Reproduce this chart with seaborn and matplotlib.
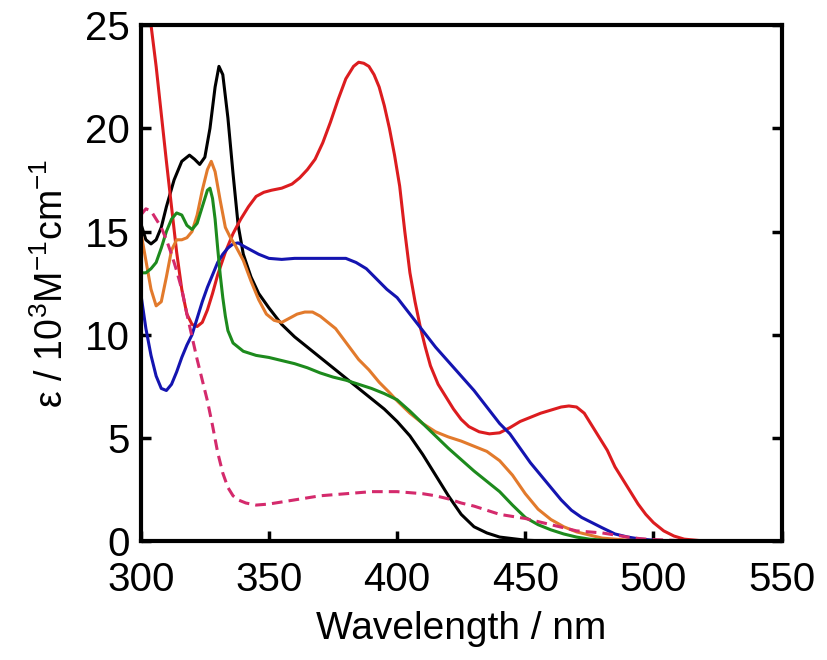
import matplotlib
matplotlib.use("Agg")
import matplotlib.pyplot as plt
import seaborn as sns


# ==============================
# DATA
# ==============================

black_nm = [300, 302, 304, 306, 308, 310, 313, 316, 319, 321, 323, 325, 327,
            329, 330.5, 332, 334, 336, 338, 340, 343, 346, 350, 355, 360, 365,
            370, 375, 380, 385, 390, 395, 400, 405, 410, 415, 420, 425, 430,
            435, 440, 450, 460, 550]
black_eps = [15.4, 14.6, 14.4, 14.6, 15.2, 16.2, 17.5, 18.4, 18.7, 18.5, 18.25,
             18.6, 20.0, 22.0, 23.0, 22.6, 20.5, 17.8, 15.3, 13.9, 12.8, 12.0,
             11.3, 10.5, 9.9, 9.4, 8.9, 8.4, 7.9, 7.4, 6.9, 6.4, 5.8, 5.1, 4.2,
             3.2, 2.2, 1.3, 0.7, 0.4, 0.2, 0.05, 0.0, 0.0]

red_nm = [300, 302, 304, 306, 308, 310, 312, 314, 316, 318, 320, 322, 324,
          326, 328, 330, 333, 336, 339, 342, 345, 348, 351, 355, 359, 362, 365,
          368, 371, 374, 377, 380, 383, 385, 387, 389, 391, 393, 395, 397, 399,
          401, 403, 405, 407, 409, 411, 413, 416, 419, 422, 425, 428, 432, 436,
          440, 444, 448, 452, 456, 460, 464, 467, 470, 473, 476, 479, 482, 485,
          488, 491, 494, 497, 500, 504, 508, 512, 518, 525, 550]
red_eps = [29.5, 27.2, 25.0, 23.0, 20.7, 18.4, 16.2, 14.0, 12.2, 11.0, 10.5,
           10.4, 10.6, 11.2, 12.0, 12.9, 14.0, 14.9, 15.6, 16.2, 16.7, 16.9,
           17.0, 17.1, 17.3, 17.6, 18.0, 18.5, 19.3, 20.3, 21.4, 22.4, 23.0,
           23.2, 23.15, 23.0, 22.6, 22.0, 21.1, 20.0, 18.7, 17.2, 15.0, 13.0,
           11.6, 10.4, 9.4, 8.5, 7.6, 7.0, 6.4, 5.9, 5.55, 5.3, 5.2, 5.25, 5.5,
           5.8, 6.0, 6.2, 6.35, 6.5, 6.55, 6.5, 6.2, 5.6, 5.0, 4.4, 3.6, 3.0,
           2.4, 1.8, 1.3, 0.9, 0.5, 0.25, 0.1, 0.03, 0.0, 0.0]

orange_nm = [300, 302, 304, 306, 308, 310, 312, 314, 316, 318, 320, 322, 324,
             326, 327.5, 329, 331, 333, 335, 337, 340, 343, 346, 349, 352, 355,
             358, 361, 364, 367, 370, 373, 376, 379, 382, 385, 389, 393, 397,
             400, 405, 410, 415, 420, 425, 430, 435, 440, 445, 450, 455, 460,
             465, 470, 475, 480, 490, 500, 550]
orange_eps = [15.0, 13.6, 12.2, 11.4, 11.6, 12.8, 14.1, 14.6, 14.6, 14.7, 15.0,
              15.8, 17.0, 18.0, 18.4, 17.9, 16.5, 15.2, 14.7, 14.3, 13.6, 12.6,
              11.7, 11.0, 10.7, 10.6, 10.8, 11.0, 11.1, 11.1, 10.9, 10.6, 10.3,
              9.8, 9.3, 8.8, 8.3, 7.7, 7.2, 6.8, 6.2, 5.7, 5.3, 5.05, 4.85,
              4.6, 4.35, 3.9, 3.2, 2.3, 1.55, 1.05, 0.7, 0.45, 0.3, 0.15, 0.05,
              0.0, 0.0]

green_nm = [300, 302, 304, 306, 308, 310, 312, 314, 316, 318, 320, 322, 324,
            326, 327, 328, 329, 330, 331, 332, 333, 334, 336, 338, 340, 345,
            350, 355, 360, 365, 370, 375, 380, 385, 390, 395, 400, 405, 410,
            415, 420, 425, 430, 435, 440, 445, 450, 455, 460, 465, 470, 475,
            480, 490, 550]
green_eps = [13.0, 13.0, 13.2, 13.5, 14.2, 15.0, 15.6, 15.9, 15.8, 15.3, 15.1,
             15.4, 16.2, 17.0, 17.1, 16.6, 15.6, 14.2, 12.9, 11.8, 10.9, 10.2,
             9.6, 9.4, 9.2, 9.0, 8.9, 8.75, 8.6, 8.4, 8.15, 7.95, 7.8, 7.6, 7.4,
             7.15, 6.85, 6.3, 5.7, 5.1, 4.5, 3.95, 3.4, 2.9, 2.4, 1.75, 1.15,
             0.8, 0.55, 0.35, 0.2, 0.1, 0.05, 0.0, 0.0]

blue_nm = [300, 302, 304, 306, 308, 310, 312, 314, 316, 318, 320, 322, 324,
           326, 328, 330, 332, 334, 336, 338, 340, 343, 346, 350, 355, 360,
           365, 370, 375, 380, 384, 388, 392, 396, 400, 405, 410, 415, 420, 425,
           430, 435, 440, 444, 448, 452, 456, 460, 464, 468, 472, 476, 480, 485,
           490, 495, 500, 510, 550]
blue_eps = [12.0, 10.3, 9.0, 8.0, 7.4, 7.3, 7.6, 8.2, 8.9, 9.5, 10.0, 10.8,
            11.6, 12.3, 12.9, 13.5, 13.9, 14.2, 14.4, 14.45, 14.3, 14.1, 13.9,
            13.7, 13.65, 13.7, 13.7, 13.7, 13.7, 13.7, 13.5, 13.2, 12.7, 12.2,
            11.8, 11.0, 10.2, 9.4, 8.7, 8.0, 7.3, 6.5, 5.7, 5.2, 4.5, 3.8, 3.2,
            2.6, 2.0, 1.5, 1.15, 0.9, 0.65, 0.35, 0.2, 0.1, 0.05, 0.0, 0.0]

pink_nm = [300, 302, 304, 306, 308, 310, 312, 314, 316, 318, 320, 322, 324,
           326, 328, 330, 332, 334, 336, 338, 341, 345, 350, 355, 360, 365,
           370, 375, 380, 385, 390, 395, 400, 405, 410, 415, 420, 425, 430,
           435, 440, 445, 450, 455, 460, 465, 470, 475, 480, 485, 490, 495,
           500, 510, 520, 550]
pink_eps = [15.8, 16.1, 16.0, 15.6, 15.2, 14.6, 13.9, 13.1, 12.2, 11.0, 9.9,
            8.8, 7.8, 6.8, 5.6, 4.3, 3.3, 2.6, 2.2, 2.0, 1.85, 1.75, 1.8, 1.9,
            2.0, 2.1, 2.2, 2.25, 2.3, 2.35, 2.4, 2.4, 2.4, 2.35, 2.3, 2.2,
            2.05, 1.85, 1.7, 1.5, 1.3, 1.2, 1.1, 0.95, 0.8, 0.65, 0.5, 0.45,
            0.4, 0.3, 0.2, 0.12, 0.08, 0.03, 0.0, 0.0]

x_ticks = [300, 350, 400, 450, 500, 550]
y_ticks = [0, 5, 10, 15, 20, 25]


# ==============================
# STYLE
# ==============================

sns.set_style("ticks")

plt.rcParams["font.family"] = ["Liberation Sans", "DejaVu Sans"]
plt.rcParams["mathtext.fontset"] = "custom"
plt.rcParams["mathtext.rm"] = "Liberation Sans"
plt.rcParams["mathtext.it"] = "Liberation Sans:italic"
plt.rcParams["mathtext.bf"] = "Liberation Sans:bold"

plt.rcParams["text.color"] = "black"
plt.rcParams["axes.labelcolor"] = "black"
plt.rcParams["xtick.color"] = "black"
plt.rcParams["ytick.color"] = "black"


# ==============================
# ABSORPTION SPECTRA
# ==============================

def plot_spectra():

    fig, ax = plt.subplots(figsize=(8.28, 6.6), dpi=100)

    fig.subplots_adjust(
        left=0.170,
        right=0.944,
        bottom=0.180,
        top=0.962
    )

    curves = [
        (black_nm, black_eps, "black"),
        (red_nm, red_eps, "#dc1c1f"),
        (blue_nm, blue_eps, "#1414b0"),
        (orange_nm, orange_eps, "#e27a2c"),
        (green_nm, green_eps, "#1d8a1d"),
    ]

    for nm, eps, colour in curves:

        sns.lineplot(
            x=nm,
            y=eps,
            color=colour,
            linewidth=2.2,
            errorbar=None,
            ax=ax
        )

    # dashed reference spectrum
    sns.lineplot(
        x=pink_nm,
        y=pink_eps,
        color="#d42a6c",
        linewidth=2.2,
        errorbar=None,
        ax=ax
    )
    ax.lines[-1].set_dashes((3.5, 2.0))

    ax.set_xlim(300, 550)
    ax.set_ylim(0, 25)

    ax.set_xticks(x_ticks)
    ax.set_yticks(y_ticks)

    ax.tick_params(
        axis="both",
        direction="in",
        length=7,
        width=2.5,
        labelsize=29,
        right=True,
        top=False
    )
    ax.tick_params(axis="x", pad=14)
    ax.tick_params(axis="y", pad=8)

    for spine in ax.spines.values():
        spine.set_linewidth(3)
        spine.set_color("black")

    ax.set_xlabel(
        "Wavelength / nm",
        fontsize=28,
        labelpad=9
    )

    ax.set_ylabel(
        r"ε / 10$^{3}$M$^{-1}$cm$^{-1}$",
        fontsize=27,
        labelpad=10
    )

    fig.savefig("out.png", dpi=100)


plot_spectra()
